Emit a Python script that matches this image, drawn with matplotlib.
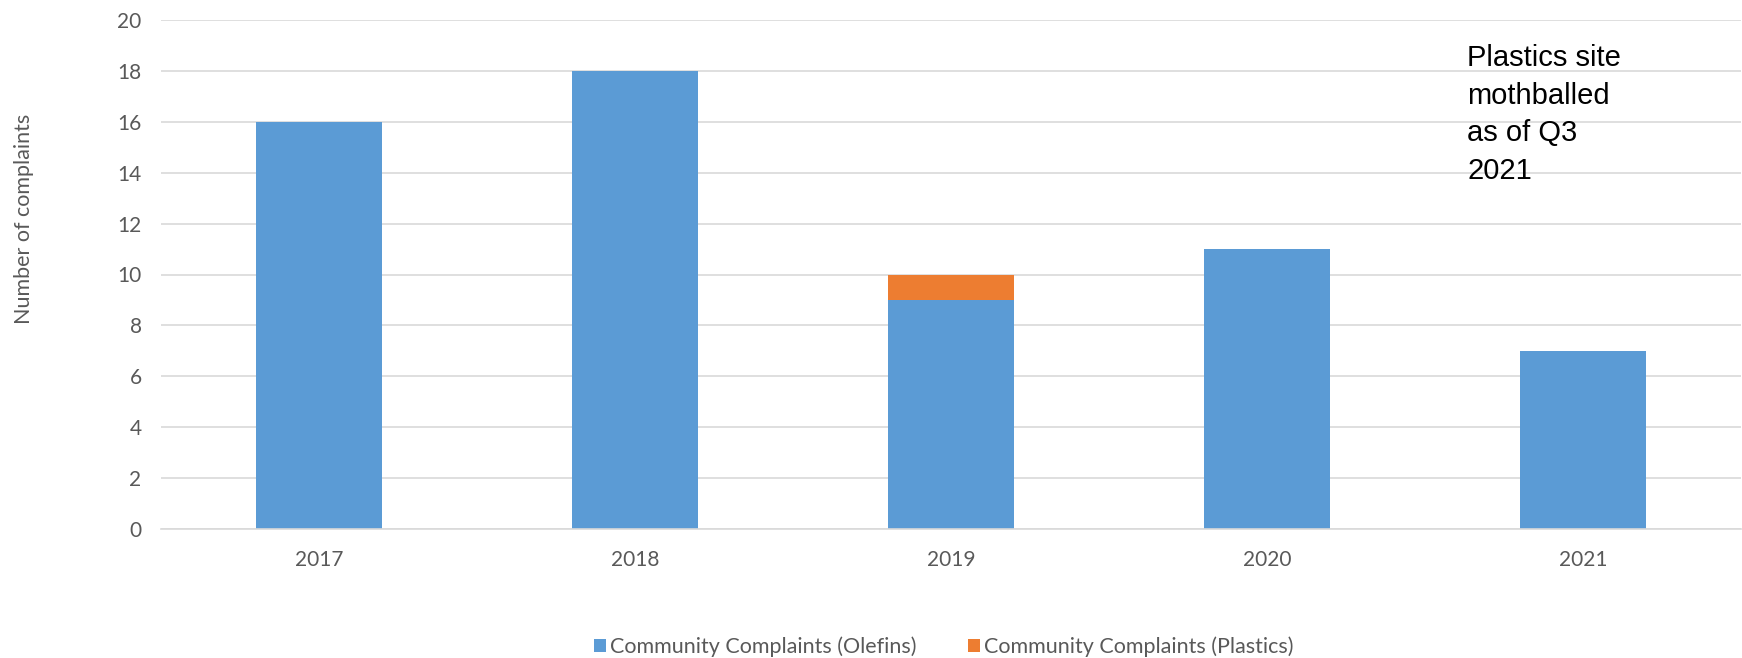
import matplotlib
matplotlib.use("Agg")
import matplotlib.pyplot as plt
import numpy as np

years = ["2017", "2018", "2019", "2020", "2021"]
olefins = [16, 18, 9, 11, 7]
plastics = [0, 0, 1, 0, 0]
series_labels = ["Community Complaints (Olefins)", "Community Complaints (Plastics)"]
yticks = [0, 2, 4, 6, 8, 10, 12, 14, 16, 18, 20]
note = "Plastics site\nmothballed\nas of Q3\n2021"

blue = "#5B9BD5"
orange = "#ED7D31"
grey_text = "#595959"
grid = "#D9D9D9"

plt.rcParams["font.family"] = ["Lato", "DejaVu Sans"]

fig = plt.figure(figsize=(17.42, 6.58), dpi=100)
ax = fig.add_axes([161 / 1742, 1 - 529 / 658, (1741 - 161) / 1742, (529 - 20) / 658])

x = np.arange(len(years))
w = 0.4
ax.bar(x, olefins, width=w, color=blue, label=series_labels[0], zorder=2)
ax.bar(x, plastics, width=w, bottom=olefins, color=orange, label=series_labels[1], zorder=2)

ax.set_xlim(-0.5, len(years) - 0.5)
ax.set_ylim(0, 20)
ax.set_yticks(yticks)
ax.set_xticks(x)
ax.set_xticklabels(years)
ax.yaxis.grid(True, color=grid, linewidth=1.2, zorder=0)
ax.set_axisbelow(True)
for s in ["top", "right", "left"]:
    ax.spines[s].set_visible(False)
ax.spines["bottom"].set_color(grid)
ax.spines["bottom"].set_linewidth(1.2)
ax.tick_params(axis="both", length=0, labelsize=15, labelcolor=grey_text)
ax.tick_params(axis="y", pad=14)
ax.tick_params(axis="x", pad=15)

fig.text(24 / 1742, 1 - 219 / 658, "Number of complaints", rotation=90,
         ha="center", va="center", fontsize=15.5, color=grey_text)

fig.text(1467 / 1742, 1 - 44.5 / 658, note, ha="left", va="top",
         fontsize=21, family=["Liberation Sans"], color="black", linespacing=1.43)

leg = fig.legend(loc="center", bbox_to_anchor=(944 / 1742, 1 - 647 / 658), ncol=2,
                 frameon=False, fontsize=15.5, handlelength=0.55, handleheight=0.55,
                 handletextpad=0.2, columnspacing=2.4)
for t in leg.get_texts():
    t.set_color(grey_text)

fig.savefig("out.png", dpi=100)
